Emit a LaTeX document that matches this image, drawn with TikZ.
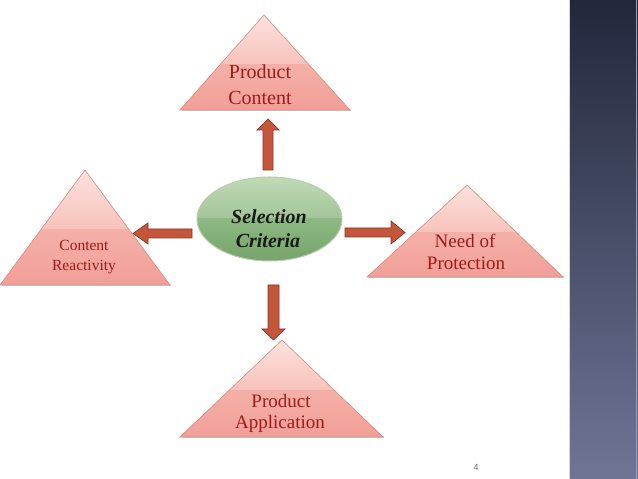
\documentclass[tikz,border=0pt]{standalone}
\usepackage{fontspec}
\setmainfont{Liberation Serif}
\setsansfont{Liberation Sans}
\usetikzlibrary{shapes.geometric}
\definecolor{triA}{HTML}{FDE2DE}
\definecolor{triB}{HTML}{F7C2BB}
\definecolor{triC}{HTML}{F4B0A8}
\definecolor{triD}{HTML}{F19F97}
\definecolor{triEdge}{HTML}{D9887E}
\definecolor{lbl}{HTML}{9E1B1B}
\definecolor{grA}{HTML}{C0DAB6}
\definecolor{grB}{HTML}{A3C598}
\definecolor{grC}{HTML}{8DB882}
\definecolor{grD}{HTML}{76A46A}
\definecolor{grEdge}{HTML}{B9CBB1}
\definecolor{arFill}{HTML}{C4563C}
\definecolor{arEdge}{HTML}{8A3826}
\definecolor{stripTop}{HTML}{22273C}
\definecolor{stripBot}{HTML}{6F7595}
\tikzset{
  lbltext/.style={text=lbl, anchor=base, inner sep=0pt},
  blockarrow/.style={fill=arFill, draw=arEdge, line width=0.7pt, line join=miter},
  triedge/.style={draw=triEdge, line width=0.6pt, line join=miter},
}
\newcommand\mytri[5]{% apex x, apex y, base y, left x, right x
  \pgfmathsetmacro\sy{#2-0.52*(#2-#3)}
  \fill[black!18] (#4+2,#3-1.5) -- (#5+1,#3-1.5) -- (#5+1,#3+0.5) -- (#4+2,#3+0.5) -- cycle;
  \begin{scope}
    \clip (#1,#2) -- (#4,#3) -- (#5,#3) -- cycle;
    \shade[top color=triA, bottom color=triB] (#4,\sy) rectangle (#5,#2);
    \shade[top color=triC, bottom color=triD] (#4,#3) rectangle (#5,\sy);
  \end{scope}
  \draw[triedge] (#1,#2) -- (#4,#3) -- (#5,#3) -- cycle;
}
\begin{document}
\begin{tikzpicture}[x=1pt,y=1pt]
\useasboundingbox (0,0) rectangle (638,479);
\fill[white] (0,0) rectangle (638,479);
% right strip
\shade[top color=stripTop, bottom color=stripBot] (569,0) rectangle (638,479);
\draw[white!70!stripBot, line width=0.8pt] (569.5,0) -- (569.5,479);
\draw[white!30!stripBot, line width=0.6pt] (636.5,0) -- (636.5,479);

% triangles
\mytri{264}{464}{369}{180}{350}
\mytri{85}{309}{194}{0}{170}
\mytri{467}{294}{202}{367}{563}
\mytri{282}{139}{42}{180}{383}

% centre ellipse
\begin{scope}
  \clip (269.5,260) ellipse [x radius=72.5, y radius=42];
  \shade[top color=grA, bottom color=grB] (197,260) rectangle (342,302);
  \shade[top color=grC, bottom color=grD] (197,218) rectangle (342,260);
\end{scope}
\draw[grEdge, line width=1pt] (269.5,260) ellipse [x radius=72.5, y radius=42];
\node[anchor=base, inner sep=0pt, font=\fontsize{20}{24}\selectfont\bfseries\itshape, text=black!90] (sel1) at (269,255) {Selection};
\node[anchor=base, inner sep=0pt, font=\fontsize{20}{24}\selectfont\bfseries\itshape, text=black!90] (sel2) at (268,231) {Criteria};

% labels
\node[lbltext, font=\fontsize{20}{24}\selectfont] (pc1) at (260,400) {Product};
\node[lbltext, font=\fontsize{20}{24}\selectfont] (pc2) at (260,374) {Content};
\node[lbltext, font=\fontsize{15.5}{18}\selectfont] (cr1) at (84,228) {Content};
\node[lbltext, font=\fontsize{15.5}{18}\selectfont] (cr2) at (84,208) {Reactivity};
\node[lbltext, font=\fontsize{19}{22}\selectfont] (np1) at (465,231) {Need of};
\node[lbltext, font=\fontsize{19}{22}\selectfont] (np2) at (466,209) {Protection};
\node[lbltext, font=\fontsize{19}{22}\selectfont] (pa1) at (281,71) {Product};
\node[lbltext, font=\fontsize{19}{22}\selectfont] (pa2) at (280,50) {Application};

% arrows
\draw[blockarrow] (263,309) -- (263,349) -- (257,349) -- (268,360) -- (279,349) -- (273,349) -- (273,309) -- cycle;
\draw[blockarrow] (192,250) -- (148,250) -- (148,256) -- (133,245.5) -- (148,235) -- (148,241) -- (192,241) -- cycle;
\draw[blockarrow] (345,251) -- (391,251) -- (391,258) -- (405,246.5) -- (391,235) -- (391,242) -- (345,242) -- cycle;
\draw[blockarrow] (268,194) -- (268,150) -- (262,150) -- (273.5,139) -- (285,150) -- (279,150) -- (279,194) -- cycle;

% page number
\node[font=\sffamily\fontsize{9}{10}\selectfont, text=black!55, inner sep=0pt] (pg) at (476,12) {4};
\end{tikzpicture}
\end{document}
